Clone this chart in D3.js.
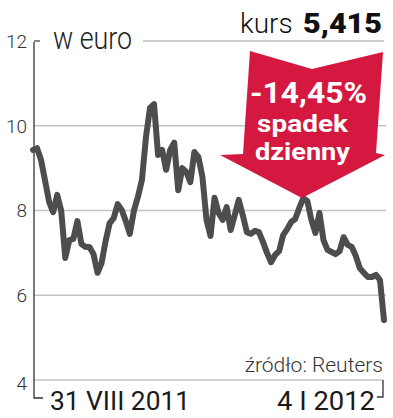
<!DOCTYPE html>
<html><head><meta charset="utf-8">
<script src="https://cdn.jsdelivr.net/npm/d3@7"></script>
<style>
html,body{margin:0;padding:0;background:#fff;}
svg{display:block;}
text{font-family:Roboto,"Noto Sans",sans-serif;}
</style></head>
<body>
<script>
// ---- data ----
const yTicks = [4, 6, 8, 10, 12];
const xLabels = ["31 VIII 2011", "4 I 2012"];
const prices = [9.43,9.47,9.19,8.70,8.20,7.96,8.37,7.99,6.88,7.30,7.33,7.75,7.21,7.14,7.14,6.97,6.53,6.76,7.28,7.70,
7.82,8.15,8.01,7.75,7.45,7.99,8.32,8.72,9.73,10.42,10.51,9.31,9.43,8.96,9.43,9.60,8.48,9.00,8.91,8.67,
9.38,9.26,8.79,7.78,7.40,8.30,7.94,7.78,8.08,7.54,7.89,8.25,7.89,7.49,7.45,7.52,7.49,7.26,7.00,6.78,
6.95,7.04,7.42,7.56,7.73,7.80,8.06,8.29,8.22,7.78,7.47,7.94,7.30,7.07,7.02,6.97,7.04,7.37,7.19,7.14,
6.93,6.64,6.53,6.43,6.43,6.48,6.36,5.415];
const unitLabel = "w euro";
const kursLabel = "kurs";
const kursValue = "5,415";
const changeLabel = "-14,45%";
const changeText = ["spadek", "dzienny"];
const sourceLabel = "źródło: Reuters";

const W = 393, H = 418;
const svg = d3.select("body").append("svg").attr("width", W).attr("height", H);

const x = d3.scaleLinear().domain([0, prices.length - 1]).range([33, 384]);
const y = d3.scaleLinear().domain([4, 12]).range([380, 41]);

// gridlines
yTicks.forEach(t => {
  const yy = y(t);
  if (t === 12) {
    svg.append("line").attr("x1", 34).attr("x2", 40).attr("y1", yy).attr("y2", yy)
      .attr("stroke", "#444").attr("stroke-width", 1.3);
    svg.append("line").attr("x1", 143).attr("x2", 384).attr("y1", yy).attr("y2", yy)
      .attr("stroke", "#bdbdbd").attr("stroke-width", 1.5);
  } else {
    svg.append("line").attr("x1", 34).attr("x2", t === 4 ? 383 : 386).attr("y1", yy).attr("y2", yy)
      .attr("stroke", "#c4c4c4").attr("stroke-width", 1.5);
  }
  svg.append("text").attr("x", 27).attr("y", yy + (t === 4 ? 3 : 0)).attr("dy", "0.36em")
    .attr("text-anchor", "end").attr("font-size", 19).attr("font-weight", 300)
    .attr("fill", "#333").text(t);
});

// axis line + brackets
svg.append("path").attr("d", `M34,${y(12)+1} V398 H43`).attr("fill", "none")
  .attr("stroke", "#333").attr("stroke-width", 1.3);
svg.append("path").attr("d", `M383,${y(4)} V397 H377`).attr("fill", "none")
  .attr("stroke", "#333").attr("stroke-width", 1.3);

// unit label
svg.append("text").attr("x", 53).attr("y", 49).attr("font-size", 31).attr("font-weight", 300)
  .attr("fill", "#222").attr("textLength", 79).attr("lengthAdjust", "spacingAndGlyphs").text(unitLabel);

// header
svg.append("text").attr("x", 240).attr("y", 33).attr("font-size", 28).attr("font-weight", 300)
  .attr("fill", "#111").text(kursLabel);
svg.append("text").attr("x", 303).attr("y", 33).attr("font-size", 28).attr("font-weight", 900)
  .attr("fill", "#111").attr("textLength", 79).attr("lengthAdjust", "spacingAndGlyphs").text(kursValue);

// line
const line = d3.line().x((d, i) => x(i)).y(d => y(d)).curve(d3.curveLinear);
svg.append("path").datum(prices).attr("d", line).attr("fill", "none")
  .attr("stroke", "#4d4d4d").attr("stroke-width", 6)
  .attr("stroke-linejoin", "round").attr("stroke-linecap", "round");

// arrow
const arrowPts = [[250,51],[312,69],[383,52],[376,153],[385,155],[302,198],[220,155],[243,154]];
svg.append("path").attr("d", "M" + arrowPts.map(p => p.join(",")).join("L") + "Z")
  .attr("fill", "#d4183f");
svg.append("text").attr("x", 250).attr("y", 103).attr("font-size", 29).attr("font-weight", 700)
  .attr("fill", "#fff").attr("textLength", 117).attr("lengthAdjust", "spacingAndGlyphs").text(changeLabel);
svg.append("text").attr("x", 257).attr("y", 132).attr("font-size", 23).attr("font-weight", 700)
  .attr("fill", "#fff").attr("textLength", 91).attr("lengthAdjust", "spacingAndGlyphs").text(changeText[0]);
svg.append("text").attr("x", 255).attr("y", 160).attr("font-size", 23).attr("font-weight", 700)
  .attr("fill", "#fff").attr("textLength", 95).attr("lengthAdjust", "spacingAndGlyphs").text(changeText[1]);

// source
svg.append("text").attr("x", 383).attr("y", 372).attr("text-anchor", "end").attr("font-size", 21)
  .attr("font-weight", 300).attr("fill", "#333").text(sourceLabel);

// x labels
svg.append("text").attr("x", x(0) + 17).attr("y", 410).attr("font-size", 25).attr("font-weight", 400)
  .attr("fill", "#1a1a1a").attr("textLength", 140).attr("lengthAdjust", "spacingAndGlyphs").text(xLabels[0]);
svg.append("text").attr("x", x(prices.length - 1) - 107).attr("y", 410).attr("font-size", 25).attr("font-weight", 400)
  .attr("fill", "#1a1a1a").attr("textLength", 98).attr("lengthAdjust", "spacingAndGlyphs").text(xLabels[1]);
</script>
</body></html>
